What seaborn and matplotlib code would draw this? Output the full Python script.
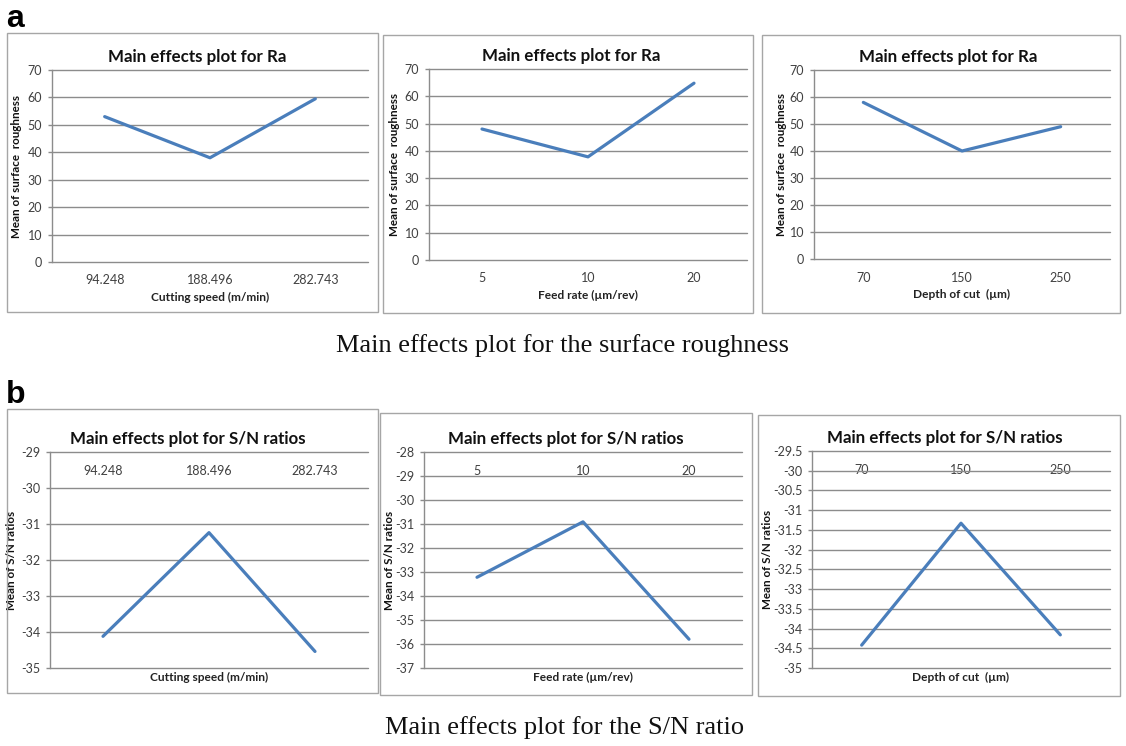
import matplotlib
matplotlib.use("Agg")
import matplotlib.pyplot as plt
import matplotlib.patches as mpatches
from matplotlib.ticker import FuncFormatter, MultipleLocator
import seaborn as sns
import pandas as pd

sns.set_theme(style="white")
plt.rcParams['font.family'] = ['Lato', 'DejaVu Sans']

# ---------------- data ----------------
speed_levels = ["94.248", "188.496", "282.743"]
feed_levels = ["5", "10", "20"]
depth_levels = ["70", "150", "250"]

ra_speed = [53.0, 38.0, 59.5]
ra_feed = [48.0, 37.8, 64.8]
ra_depth = [58.0, 40.0, 49.0]

sn_speed = [-34.12, -31.24, -34.54]
sn_feed = [-33.22, -30.91, -35.8]
sn_depth = [-34.42, -31.33, -34.16]

x_titles = ["Cutting speed (m/min)", "Feed rate (\u00b5m/rev)", "Depth of cut  (\u00b5m)"]
title_a = "Main effects plot for Ra"
title_b = "Main effects plot for S/N ratios"
ylab_a = "Mean of surface  roughness"
ylab_b = "Mean of S/N ratios"
caption_a = "Main effects plot for the surface roughness"
caption_b = "Main effects plot for the S/N ratio"

W, H = 1126, 746
fig = plt.figure(figsize=(W / 100, H / 100), dpi=100)

LINE = "#4A7EBB"
GRID = "#8c8c8c"
TICKC = "#404040"


def fx(px):
    return px / W


def fy(py):
    return 1 - py / H


def box(l, t, r, b):
    fig.patches.append(mpatches.Rectangle((fx(l), fy(b)), fx(r - l), (b - t) / H,
                                          transform=fig.transFigure, fill=False,
                                          edgecolor="#a6a6a6", linewidth=1.0))


def make_axes(l, t, r, b):
    return fig.add_axes([fx(l), fy(b), fx(r - l), (b - t) / H])


def style(ax, levels, vals, ylim, step, title, title_cx, ylab, ylab_dx, xlab, top_labels, l, r, t, b):
    df = pd.DataFrame({"level": levels, "value": vals})
    sns.lineplot(data=df, x="level", y="value", ax=ax, color=LINE, linewidth=2.3, sort=False)
    ax.set_xlim(-0.5, len(levels) - 0.5)
    ax.set_ylim(*ylim)
    ax.yaxis.set_major_locator(MultipleLocator(step))
    ax.yaxis.set_major_formatter(FuncFormatter(lambda v, p: f"{v:g}"))
    ax.grid(axis="y", color=GRID, linewidth=1.0, clip_on=False)
    ax.grid(axis="x", visible=False)
    ax.set_axisbelow(True)
    for s in ["top", "right", "bottom"]:
        ax.spines[s].set_visible(False)
    ax.spines["left"].set_color(GRID)
    ax.spines["left"].set_linewidth(1.0)
    ax.set_facecolor("none")
    ax.tick_params(axis="y", left=True, length=3, width=1, color=GRID, pad=4,
                   labelsize=9, labelcolor=TICKC)
    if top_labels:
        ax.tick_params(axis="x", bottom=False, labelbottom=False, top=False, labeltop=True,
                       length=0, pad=-18, labelsize=9, labelcolor=TICKC)
        ax.set_xlabel(xlab, fontsize=8.6, fontweight="bold", color="#222222", labelpad=3)
        ax.xaxis.set_label_position("bottom")
    else:
        ax.tick_params(axis="x", bottom=False, length=0, pad=9, labelsize=9, labelcolor=TICKC)
        ax.set_xlabel(xlab, fontsize=8.6, fontweight="bold", color="#222222", labelpad=4)
    ax.set_ylabel(ylab, fontsize=8.4, fontweight="bold", color="#111111")
    ax.yaxis.set_label_coords(-ylab_dx / (r - l), 0.5)
    ax.text((title_cx - l) / (r - l), 1 + 13 / (b - t), title, transform=ax.transAxes,
            ha="center", va="center", fontsize=12.2, fontweight="bold", color="#111111")


# ---------- panel a ----------
box(7, 33, 378, 312)
box(383, 35, 753, 313)
box(762, 35, 1120, 313)

a_specs = [
    (52, 70, 368, 262, speed_levels, ra_speed, 197, 30, x_titles[0]),
    (429, 69, 747, 260, feed_levels, ra_feed, 571, 29, x_titles[1]),
    (814, 70, 1110, 259, depth_levels, ra_depth, 948, 27, x_titles[2]),
]
for l, t, r, b, lev, vals, tcx, ydx, xl in a_specs:
    ax = make_axes(l, t, r, b)
    style(ax, lev, vals, (0, 70), 10, title_a, tcx, ylab_a, ydx, xl, False, l, r, t, b)

# ---------- panel b ----------
box(7, 409, 378, 693)
box(380, 413, 752, 695)
box(758, 415, 1120, 696)

b_specs = [
    (50, 452, 368, 668, speed_levels, sn_speed, (-35, -29), 1, 188, 33, x_titles[0]),
    (424, 452, 742, 668, feed_levels, sn_feed, (-37, -28), 1, 566, 29, x_titles[1]),
    (812, 451, 1110, 668, depth_levels, sn_depth, (-35, -29.5), 0.5, 945, 39, x_titles[2]),
]
for l, t, r, b, lev, vals, yl, st, tcx, ydx, xl in b_specs:
    ax = make_axes(l, t, r, b)
    style(ax, lev, vals, yl, st, title_b, tcx, ylab_b, ydx, xl, True, l, r, t, b)

# ---------- labels & captions ----------
fig.text(fx(6), fy(19), "a", fontsize=23, fontweight="bold", family="Liberation Sans",
         ha="left", va="center", color="black")
fig.text(fx(6), fy(395), "b", fontsize=23, fontweight="bold", family="Liberation Sans",
         ha="left", va="center", color="black")
fig.text(fx(562), fy(346), caption_a, fontsize=19, family="Liberation Serif",
         ha="center", va="center", color="#111111")
fig.text(fx(565), fy(728), caption_b, fontsize=19, family="Liberation Serif",
         ha="center", va="center", color="#111111")

fig.savefig("out.png", dpi=100, facecolor="white")
